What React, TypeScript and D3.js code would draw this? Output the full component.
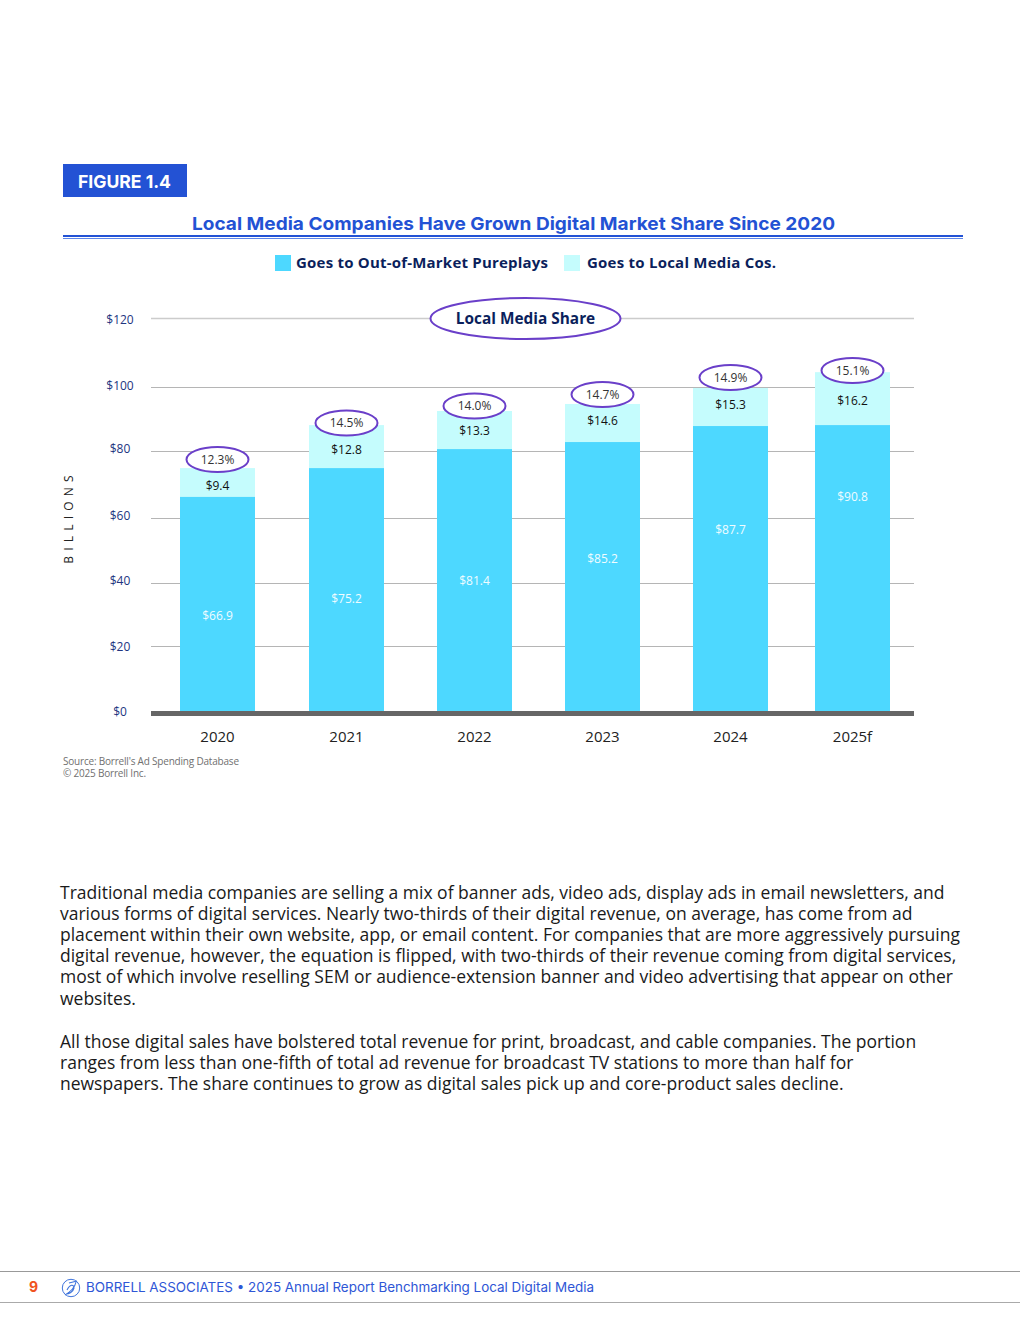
import React, { useEffect, useRef } from 'react';
import * as d3 from 'd3';

const years = ['2020', '2021', '2022', '2023', '2024', '2025f'];
const outOfMarket = [66.9, 75.2, 81.4, 85.2, 87.7, 90.8];
const localMedia = [9.4, 12.8, 13.3, 14.6, 15.3, 16.2];
const localShare = ['12.3%', '14.5%', '14.0%', '14.7%', '14.9%', '15.1%'];

// bars in the source don't sit true to their labels, these are read against the gridlines
const outOfMarketDrawn = [66.3, 74.9, 80.6, 82.8, 87.8, 88.1];
const totalDrawn = [74.9, 88.1, 92.5, 94.7, 99.7, 104.3];

const yTicks = [0, 20, 40, 60, 80, 100, 120];

const bodyLines = [
  'Traditional media companies are selling a mix of banner ads, video ads, display ads in email newsletters, and',
  'various forms of digital services. Nearly two-thirds of their digital revenue, on average, has come from ad',
  'placement within their own website, app, or email content. For companies that are more aggressively pursuing',
  'digital revenue, however, the equation is flipped, with two-thirds of their revenue coming from digital services,',
  'most of which involve reselling SEM or audience-extension banner and video advertising that appear on other',
  'websites.',
  '',
  'All those digital sales have bolstered total revenue for print, broadcast, and cable companies. The portion',
  'ranges from less than one-fifth of total ad revenue for broadcast TV stations to more than half for',
  'newspapers. The share continues to grow as digital sales pick up and core-product sales decline.',
];

const BLUE = '#2352d4';
const NAVY = '#0b1f5c';
const PURPLE = '#6a3fc9';
const BODY_FONT = '"Open Sans", sans-serif';
const HEAD_FONT = 'Inter, sans-serif';

export default function App() {
  const svgRef = useRef<SVGSVGElement>(null);

  useEffect(() => {
    if (!svgRef.current) return;
    const svg = d3.select(svgRef.current);
    svg.selectAll('*').remove();

    const left = 151;
    const right = 914;
    const barWidth = 75;

    // the gridlines aren't evenly spaced in the source
    const y = d3.scaleLinear().domain(yTicks).range([711, 646, 583, 518, 451, 387, 318]);
    const yLabel = d3.scaleLinear().domain(yTicks).range([711, 646, 580, 515, 448, 385, 319]);
    const x = d3.scaleOrdinal<string, number>().domain(years).range([217.5, 346.5, 474.5, 602.5, 730.5, 852.5]);
    const outLabelY = d3.scaleOrdinal<string, number>().domain(years).range([615.5, 598.5, 580.5, 558.5, 529.5, 496.5]);
    const localLabelY = d3.scaleOrdinal<string, number>().domain(years).range([485.5, 449.5, 430.5, 420.5, 404.5, 400.5]);
    const shareY = d3.scaleOrdinal<string, number>().domain(years).range([459.5, 423, 406, 394.5, 377.5, 370.5]);

    // Header
    svg.append('rect').attr('x', 63).attr('y', 164).attr('width', 124).attr('height', 33).attr('fill', BLUE);
    svg.append('text').attr('x', 78).attr('y', 188).text('FIGURE 1.4')
      .attr('font-family', HEAD_FONT).attr('font-weight', 700).attr('font-size', 18)
      .attr('textLength', 93).attr('lengthAdjust', 'spacingAndGlyphs').attr('fill', '#fff');
    svg.append('text').attr('x', 192).attr('y', 230).text('Local Media Companies Have Grown Digital Market Share Since 2020')
      .attr('font-family', HEAD_FONT).attr('font-weight', 700).attr('font-size', 18)
      .attr('textLength', 643).attr('lengthAdjust', 'spacingAndGlyphs').attr('fill', BLUE);
    svg.append('rect').attr('x', 63).attr('y', 235).attr('width', 900).attr('height', 2).attr('fill', BLUE);
    svg.append('rect').attr('x', 63).attr('y', 238).attr('width', 900).attr('height', 1).attr('fill', '#5f86ea');

    // Legend
    const legend = [
      { label: 'Goes to Out-of-Market Pureplays', color: '#4dd8ff', sx: 275, tx: 296, w: 252 },
      { label: 'Goes to Local Media Cos.', color: '#c5fcfd', sx: 564, tx: 587, w: 189 },
    ];
    legend.forEach((d) => {
      svg.append('rect').attr('x', d.sx).attr('y', 255).attr('width', 16).attr('height', 16).attr('fill', d.color);
      svg.append('text').attr('x', d.tx).attr('y', 268).text(d.label)
        .attr('font-family', BODY_FONT).attr('font-weight', 700).attr('font-size', 15)
        .attr('textLength', d.w).attr('fill', NAVY);
    });

    // Gridlines
    svg.append('g')
      .attr('transform', `translate(${left},0)`)
      .call(d3.axisRight(y).tickValues(yTicks.filter((t) => t > 0)).tickSize(right - left).tickFormat(() => ''))
      .call((g) => g.select('.domain').remove())
      .selectAll('line')
      .attr('stroke', (d) => (d === 120 ? '#cccccc' : '#b5b5b5'))
      .attr('stroke-width', (d) => (d === 120 ? 1.4 : 1));

    // Y axis labels
    svg.append('g')
      .attr('transform', 'translate(120,0.6)')
      .call(d3.axisLeft(yLabel).tickValues(yTicks).tickSize(0).tickFormat((d) => `$${d}`))
      .call((g) => g.select('.domain').remove())
      .selectAll('text')
      .attr('x', 0)
      .attr('text-anchor', 'middle')
      .attr('font-family', BODY_FONT)
      .attr('font-size', 12)
      .attr('fill', '#22357f');

    svg.append('text').text('BILLIONS')
      .attr('transform', 'translate(72.5,517) rotate(-90)')
      .attr('text-anchor', 'middle')
      .attr('font-family', BODY_FONT).attr('font-size', 12).attr('letter-spacing', 5.2).attr('fill', '#222');

    // Stacked bars
    svg.selectAll('.bar-local').data(years).enter().append('rect')
      .attr('class', 'bar-local')
      .attr('x', (d) => x(d) - barWidth / 2)
      .attr('y', (_, i) => y(totalDrawn[i]))
      .attr('width', barWidth)
      .attr('height', (_, i) => y(outOfMarketDrawn[i]) - y(totalDrawn[i]))
      .attr('fill', '#c5fcfd');
    svg.selectAll('.bar-out').data(years).enter().append('rect')
      .attr('class', 'bar-out')
      .attr('x', (d) => x(d) - barWidth / 2)
      .attr('y', (_, i) => y(outOfMarketDrawn[i]))
      .attr('width', barWidth)
      .attr('height', (_, i) => y(0) - y(outOfMarketDrawn[i]))
      .attr('fill', '#4dd8ff');

    // Baseline
    svg.append('rect').attr('x', left).attr('y', y(0)).attr('width', right - left).attr('height', 5).attr('fill', '#666');

    // Value labels
    svg.selectAll('.label-out').data(years).enter().append('text')
      .attr('class', 'label-out')
      .attr('x', (d) => x(d))
      .attr('y', (d) => outLabelY(d))
      .attr('dy', '0.35em')
      .attr('text-anchor', 'middle')
      .attr('font-family', BODY_FONT).attr('font-size', 12).attr('fill', '#f0fcff')
      .text((_, i) => `$${outOfMarket[i].toFixed(1)}`);
    svg.selectAll('.label-local').data(years).enter().append('text')
      .attr('class', 'label-local')
      .attr('x', (d) => x(d))
      .attr('y', (d) => localLabelY(d))
      .attr('dy', '0.35em')
      .attr('text-anchor', 'middle')
      .attr('font-family', BODY_FONT).attr('font-size', 12).attr('fill', '#111')
      .text((_, i) => `$${localMedia[i].toFixed(1)}`);

    // Share ovals
    svg.selectAll('.share-oval').data(years).enter().append('ellipse')
      .attr('class', 'share-oval')
      .attr('cx', (d) => x(d))
      .attr('cy', (d) => shareY(d))
      .attr('rx', 31)
      .attr('ry', 12.5)
      .attr('fill', '#fff')
      .attr('stroke', PURPLE)
      .attr('stroke-width', 2);
    svg.selectAll('.share-label').data(years).enter().append('text')
      .attr('class', 'share-label')
      .attr('x', (d) => x(d))
      .attr('y', (d) => shareY(d))
      .attr('dy', '0.35em')
      .attr('text-anchor', 'middle')
      .attr('font-family', BODY_FONT).attr('font-size', 12).attr('fill', '#333')
      .text((_, i) => localShare[i]);

    svg.append('ellipse').attr('cx', 525.5).attr('cy', 318.5).attr('rx', 95).attr('ry', 20.5)
      .attr('fill', '#fff').attr('stroke', PURPLE).attr('stroke-width', 2);
    svg.append('text').attr('x', 525.5).attr('y', 324).text('Local Media Share')
      .attr('text-anchor', 'middle')
      .attr('font-family', BODY_FONT).attr('font-weight', 700).attr('font-size', 15.4).attr('fill', NAVY);

    // X axis labels
    svg.selectAll('.year').data(years).enter().append('text')
      .attr('class', 'year')
      .attr('x', (d) => x(d))
      .attr('y', 742)
      .attr('text-anchor', 'middle')
      .attr('font-family', BODY_FONT).attr('font-size', 15).attr('fill', '#222')
      .text((d) => d);

    // Source
    ["Source: Borrell's Ad Spending Database", '\u00a9 2025 Borrell Inc.'].forEach((t, i) => {
      svg.append('text').attr('x', 63).attr('y', 765 + i * 12).text(t)
        .attr('font-family', BODY_FONT).attr('font-size', 10).attr('letter-spacing', -0.2).attr('fill', '#707070');
    });

    // Body copy
    bodyLines.forEach((t, i) => {
      svg.append('text').attr('x', 60).attr('y', 899 + i * 21.1 + (i > 6 ? 0.8 : 0)).text(t)
        .attr('font-family', BODY_FONT).attr('font-size', 17.5).attr('fill', '#1a1a1a');
    });

    // Footer
    svg.append('line').attr('x1', 0).attr('x2', 1020).attr('y1', 1271.5).attr('y2', 1271.5).attr('stroke', '#999');
    svg.append('line').attr('x1', 0).attr('x2', 1020).attr('y1', 1302.5).attr('y2', 1302.5).attr('stroke', '#aaa');
    svg.append('text').attr('x', 29).attr('y', 1292).text('9')
      .attr('font-family', HEAD_FONT).attr('font-weight', 700).attr('font-size', 14).attr('fill', '#f0531f');
    svg.append('circle').attr('cx', 71).attr('cy', 1288).attr('r', 8.7)
      .attr('fill', 'none').attr('stroke', '#3f74dc').attr('stroke-width', 1);
    svg.append('path').attr('d', 'M65 1295 C70 1292 75 1287 76 1282 M69 1283 L77 1281 M67 1290 C70 1284 74 1284 74 1288 C73 1292 69 1294 66 1294')
      .attr('fill', 'none').attr('stroke', '#3f74dc').attr('stroke-width', 1.1);
    svg.append('text').attr('x', 86).attr('y', 1292).text('BORRELL ASSOCIATES \u2022 2025 Annual Report Benchmarking Local Digital Media')
      .attr('font-family', HEAD_FONT).attr('font-size', 13.5)
      .attr('textLength', 508).attr('lengthAdjust', 'spacingAndGlyphs').attr('fill', '#2e56d6');
  }, []);

  return <svg ref={svgRef} width={1020} height={1320} style={{ position: 'absolute', top: 0, left: 0, display: 'block' }} />;
}
